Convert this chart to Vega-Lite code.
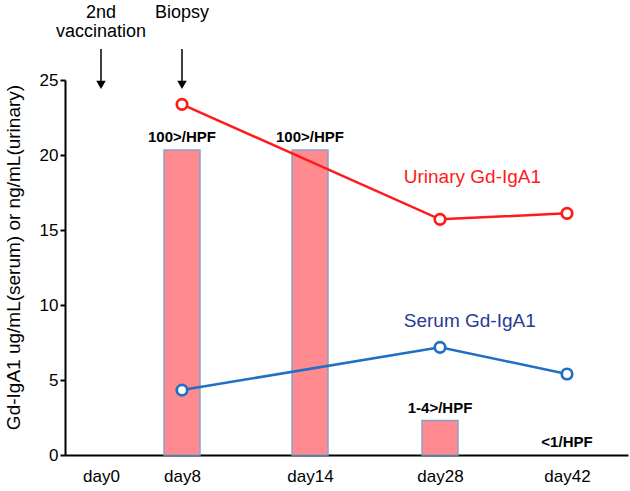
{
  "$schema": "https://vega.github.io/schema/vega-lite/v6.json",
  "width": 563,
  "height": 375,
  "autosize": {"type": "none"},
  "padding": {"left": 65, "top": 80, "right": 2, "bottom": 36},
  "background": "white",
  "config": {
    "view": {"stroke": null},
    "font": "Liberation Sans",
    "axis": {"labelFont": "Liberation Sans", "titleFont": "Liberation Sans", "domainColor": "black", "tickColor": "black", "labelColor": "black", "titleColor": "black", "grid": false}
  },
  "datasets": {
    "bars": [
      {"day": 8, "value": 20.33, "label": "100>/HPF"},
      {"day": 14, "value": 20.33, "label": "100>/HPF"},
      {"day": 28, "value": 2.3, "label": "1-4>/HPF"},
      {"day": 42, "value": 0, "label": "<1/HPF"}
    ],
    "lines": [
      {"day": 8, "value": 23.38, "series": "Urinary Gd-IgA1"},
      {"day": 28, "value": 15.71, "series": "Urinary Gd-IgA1"},
      {"day": 42, "value": 16.11, "series": "Urinary Gd-IgA1"},
      {"day": 8, "value": 4.33, "series": "Serum Gd-IgA1"},
      {"day": 28, "value": 7.18, "series": "Serum Gd-IgA1"},
      {"day": 42, "value": 5.4, "series": "Serum Gd-IgA1"}
    ],
    "serieslabels": [
      {"day": 24.1, "value": 18.53, "series": "Urinary Gd-IgA1"},
      {"day": 24.1, "value": 8.93, "series": "Serum Gd-IgA1"}
    ],
    "notes": [
      {"day": 0, "value": 29.5, "text": "2nd"},
      {"day": 0, "value": 28.2, "text": "vaccination"},
      {"day": 8, "value": 29.47, "text": "Biopsy"}
    ],
    "arrows": [
      {"day": 0, "top": 27.07, "tip": 24.67},
      {"day": 8, "top": 27.07, "tip": 24.67}
    ]
  },
  "encoding": {
    "x": {
      "field": "day",
      "type": "quantitative",
      "scale": {"domain": [-8, 0, 8, 14, 28, 42, 50], "range": [0, 36, 117, 245, 375, 502, 563], "nice": false, "zero": false},
      "axis": {"title": null, "values": [0, 8, 14, 28, 42], "labelExpr": "'day' + datum.value", "ticks": false, "labelFontSize": 17, "labelPadding": 13, "domainWidth": 2, "labelFlush": false}
    }
  },
  "layer": [
    {
      "data": {"name": "bars"},
      "transform": [{"filter": "datum.value > 0"}],
      "mark": {"type": "bar", "width": 36, "fill": "#ff8a8f", "stroke": "#8c9fcb", "strokeWidth": 1.5},
      "encoding": {
        "y": {
          "field": "value",
          "type": "quantitative",
          "scale": {"domain": [0, 25], "nice": false},
          "axis": {"title": "Gd-IgA1 ug/mL(serum) or ng/mL(urinary)", "values": [0, 5, 10, 15, 20, 25], "labelFontSize": 17, "labelPadding": 2, "tickSize": 5, "tickWidth": 2, "domainWidth": 2, "titleFontSize": 19, "titleFontWeight": "normal", "titleX": -52, "titleY": 177, "titleBaseline": "middle", "titleAlign": "center", "titleAngle": -90}
        }
      }
    },
    {
      "data": {"name": "bars"},
      "mark": {"type": "text", "fontWeight": "bold", "fontSize": 15, "baseline": "alphabetic", "dy": -8, "align": "center", "color": "black"},
      "encoding": {
        "y": {"field": "value", "type": "quantitative"},
        "text": {"field": "label"}
      }
    },
    {
      "data": {"name": "lines"},
      "mark": {"type": "line", "strokeWidth": 2.5},
      "encoding": {
        "y": {"field": "value", "type": "quantitative"},
        "color": {"field": "series", "type": "nominal", "scale": {"domain": ["Urinary Gd-IgA1", "Serum Gd-IgA1"], "range": ["#ff1a1a", "#1f6fc2"]}, "legend": null}
      }
    },
    {
      "data": {"name": "lines"},
      "mark": {"type": "point", "shape": "circle", "filled": false, "fill": "white", "fillOpacity": 1, "strokeWidth": 2.7, "size": 110, "opacity": 1},
      "encoding": {
        "y": {"field": "value", "type": "quantitative"},
        "stroke": {"field": "series", "type": "nominal", "scale": {"domain": ["Urinary Gd-IgA1", "Serum Gd-IgA1"], "range": ["#ff1a1a", "#1f6fc2"]}, "legend": null}
      }
    },
    {
      "data": {"name": "serieslabels"},
      "mark": {"type": "text", "align": "left", "baseline": "middle", "fontSize": 19},
      "encoding": {
        "y": {"field": "value", "type": "quantitative"},
        "text": {"field": "series"},
        "fill": {"field": "series", "type": "nominal", "scale": {"domain": ["Urinary Gd-IgA1", "Serum Gd-IgA1"], "range": ["#ff1a1a", "#2a3a96"]}, "legend": null}
      }
    },
    {
      "data": {"name": "notes"},
      "mark": {"type": "text", "align": "center", "baseline": "middle", "fontSize": 18, "color": "black", "clip": false},
      "encoding": {
        "y": {"field": "value", "type": "quantitative"},
        "text": {"field": "text"}
      }
    },
    {
      "data": {"name": "arrows"},
      "mark": {"type": "rule", "color": "black", "strokeWidth": 1.5},
      "encoding": {
        "y": {"field": "top", "type": "quantitative"},
        "y2": {"field": "tip"}
      }
    },
    {
      "data": {"name": "arrows"},
      "mark": {"type": "point", "shape": "triangle-down", "filled": true, "color": "black", "size": 90, "opacity": 1},
      "encoding": {
        "y": {"field": "tip", "type": "quantitative"}
      }
    }
  ],
  "resolve": {"scale": {"color": "independent", "stroke": "independent", "fill": "independent"}}
}
